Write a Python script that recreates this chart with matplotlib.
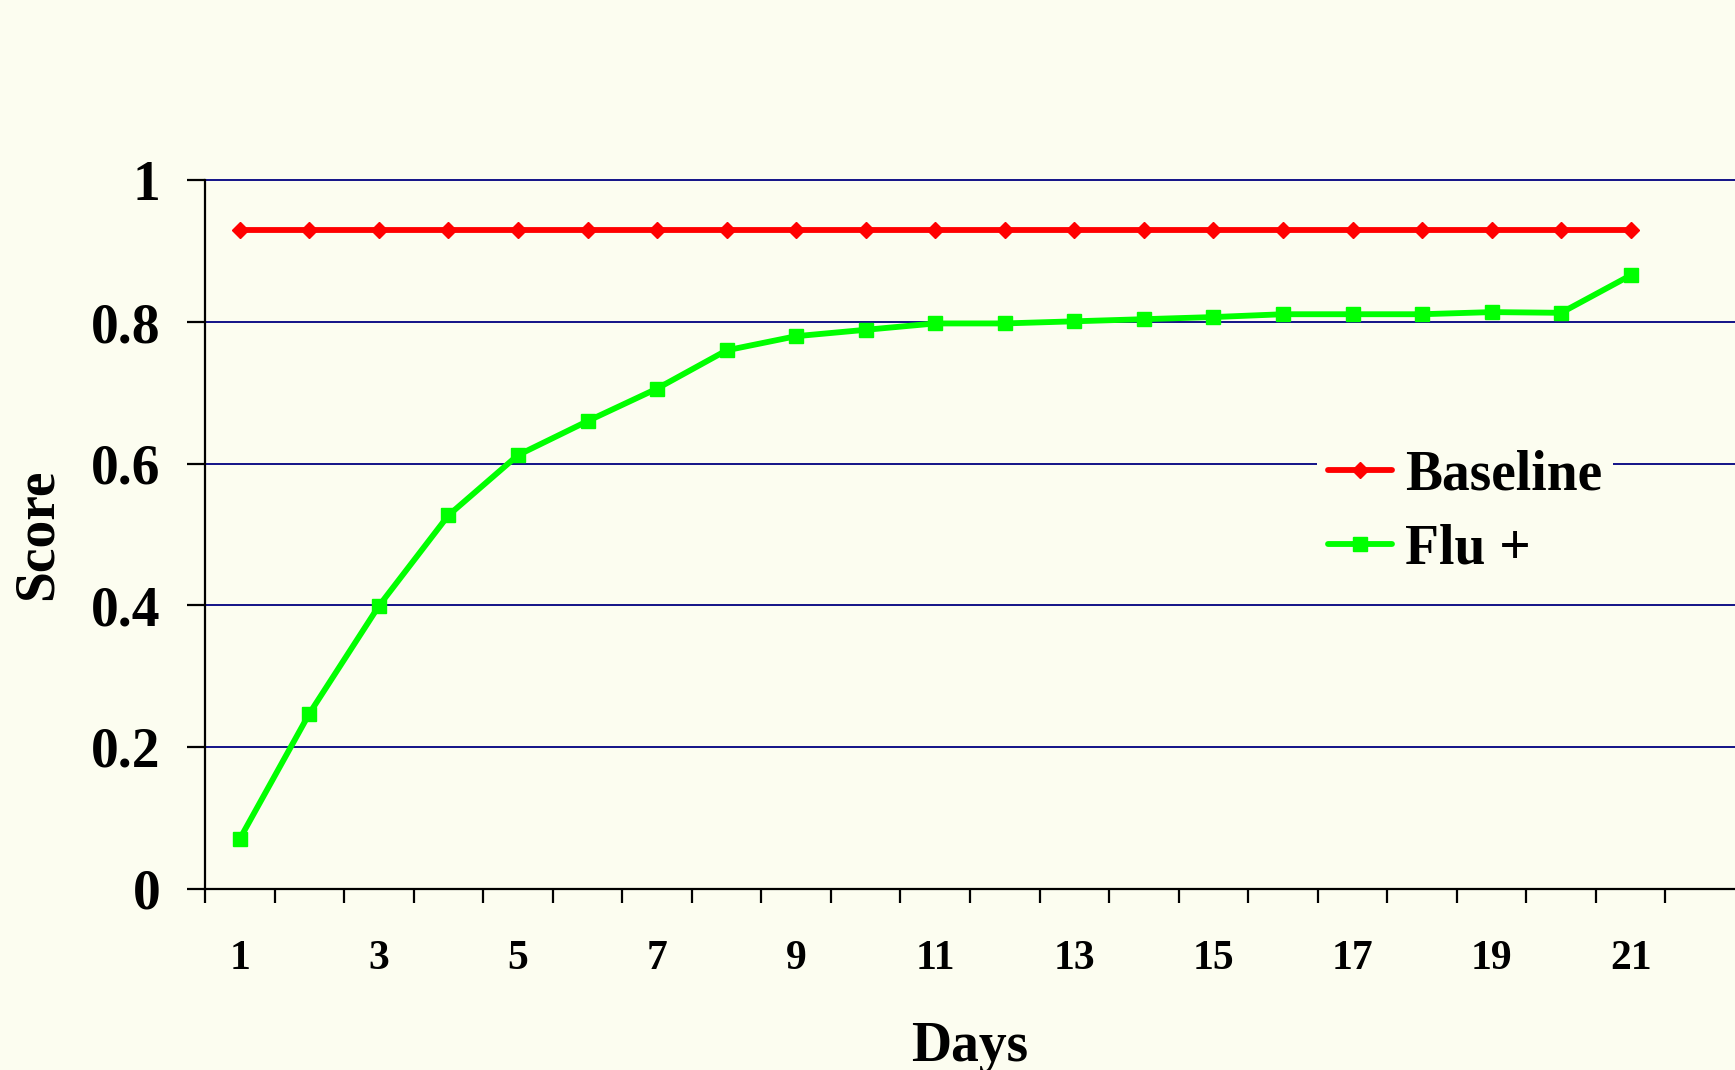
import numpy as np
import matplotlib
matplotlib.use("Agg")
import matplotlib.pyplot as plt

# ---- data ----
days = list(range(1, 22))
baseline = [0.93] * 21
flu_pos = [0.070, 0.247, 0.399, 0.527, 0.612, 0.660, 0.706, 0.760, 0.780, 0.789,
           0.798, 0.798, 0.801, 0.804, 0.807, 0.811, 0.811, 0.811, 0.814, 0.813, 0.866]
y_ticks = [0, 0.2, 0.4, 0.6, 0.8, 1]
y_tick_labels = ["0", "0.2", "0.4", "0.6", "0.8", "1"]
x_tick_days = list(range(1, 22, 2))

bg = "#FCFDF0"

plt.rcParams.update({
    "font.family": ["Liberation Serif", "DejaVu Serif"],
    "font.weight": "bold",
})

fig = plt.figure(figsize=(17.35, 10.70), dpi=100, facecolor=bg)
ax = fig.add_axes([205 / 1735, 1 - 888.5 / 1070, 1530 / 1735, (888.5 - 180.4) / 1070])
ax.set_facecolor(bg)

ax.plot(days, baseline, color="#FF0000", lw=4.2, marker="D", ms=8, label="Baseline",
        zorder=3, clip_on=False, solid_capstyle="round")
ax.plot(days, flu_pos, color="#00FF00", lw=4.2, marker="s", ms=10, label="Flu +",
        zorder=3, clip_on=False, solid_capstyle="round")

ax.set_xlim(0.5, 22.5)
ax.set_ylim(0, 1)

# gridlines
for y in y_ticks[1:]:
    ax.axhline(y, color="#000080", lw=1.3, zorder=1, clip_on=False)

for side in ["top", "right"]:
    ax.spines[side].set_visible(False)
for side in ["left", "bottom"]:
    ax.spines[side].set_linewidth(1.6)
    ax.spines[side].set_color("black")
    ax.spines[side].set_zorder(2)

ax.set_yticks(y_ticks)
ax.set_yticklabels(y_tick_labels, fontsize=40, fontweight="bold")
ax.tick_params(axis="y", length=13, width=1.6, pad=19, direction="out")

ax.set_xticks(x_tick_days)
ax.set_xticklabels([str(d) for d in x_tick_days], fontsize=30, fontweight="bold")
ax.set_xticks(np.arange(0.5, 22, 1.0), minor=True)
ax.tick_params(axis="x", which="major", length=0, pad=37)
ax.tick_params(axis="x", which="minor", length=10, width=1.6, direction="out")

ax.set_xlabel("Days", fontsize=40, fontweight="bold", labelpad=31)
ax.set_ylabel("Score", fontsize=40, fontweight="bold", labelpad=20)

leg = ax.legend(loc="center left", bbox_to_anchor=(0.727, 0.531), borderaxespad=0,
                frameon=True, facecolor=bg, edgecolor="none", framealpha=1,
                fontsize=40, handlelength=1.15, handletextpad=0.23,
                labelspacing=0.4, borderpad=0.2, fancybox=False)
leg.set_zorder(2.5)

fig.savefig("out.png", dpi=100, facecolor=bg)
